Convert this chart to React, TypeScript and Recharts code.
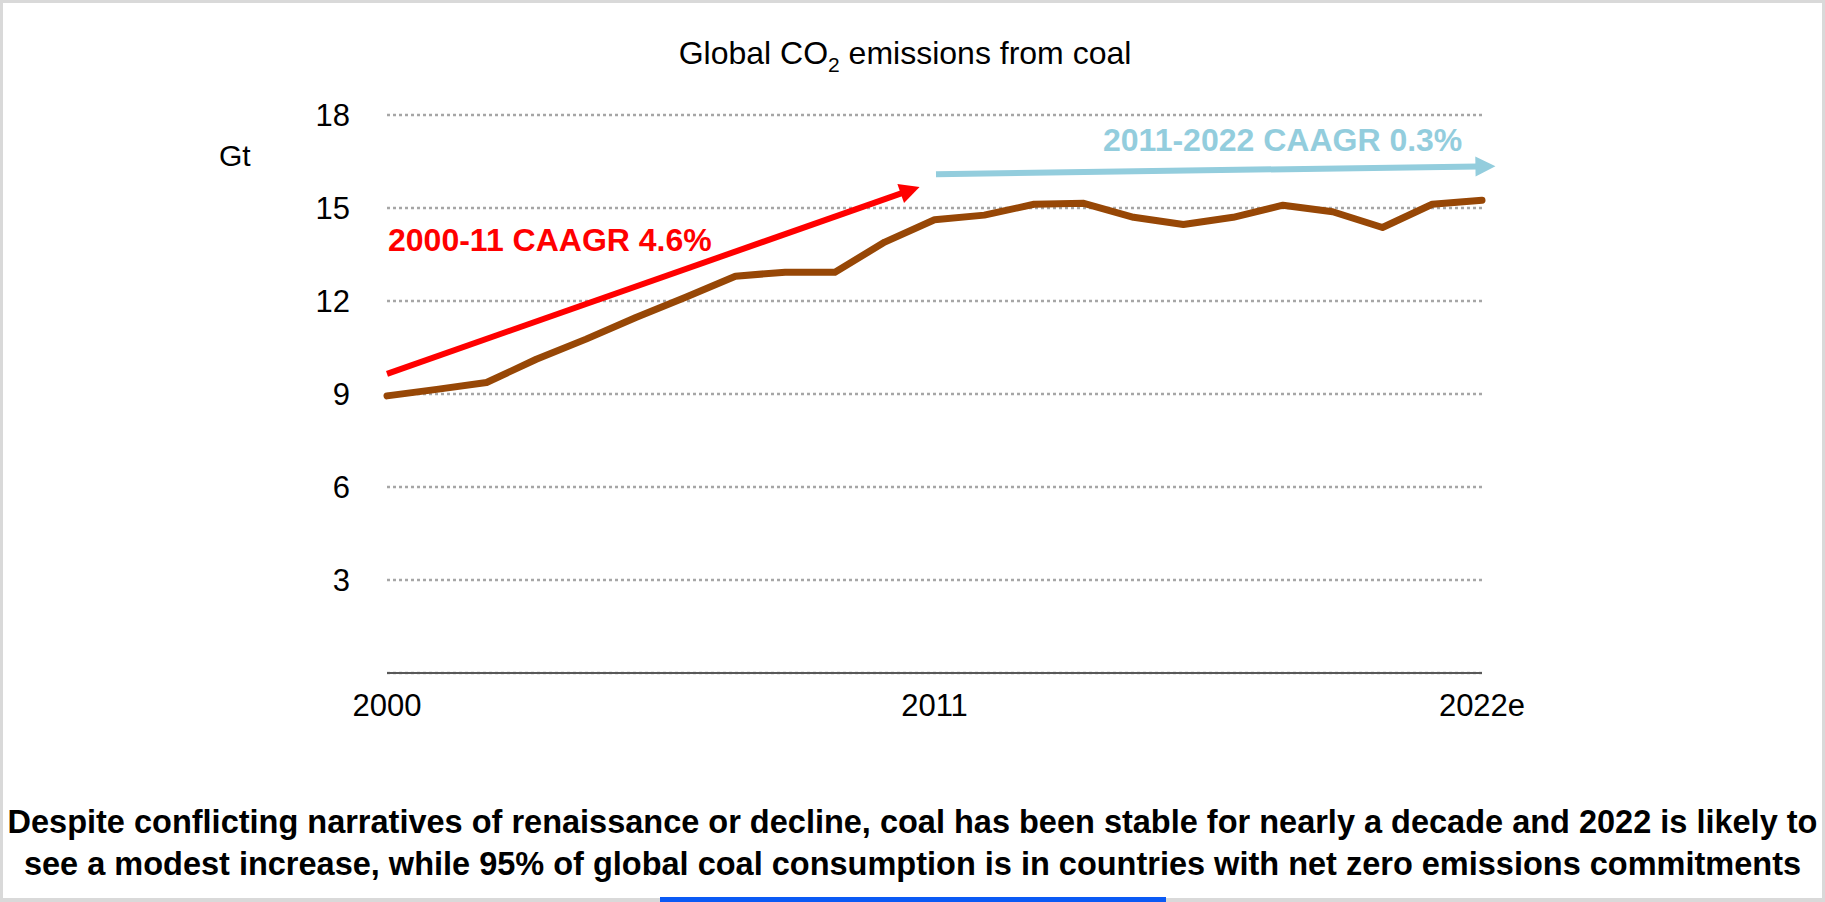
import { LineChart, Line, XAxis, YAxis, CartesianGrid, ReferenceLine } from 'recharts'

// Global CO2 emissions from coal, Gt
const years = [
  2000, 2001, 2002, 2003, 2004, 2005, 2006, 2007, 2008, 2009, 2010, 2011,
  2012, 2013, 2014, 2015, 2016, 2017, 2018, 2019, 2020, 2021, 2022,
]
const coalEmissions = [
  8.94, 9.15, 9.37, 10.12, 10.77, 11.47, 12.12, 12.8, 12.93, 12.93, 13.9, 14.62,
  14.77, 15.12, 15.15, 14.7, 14.47, 14.7, 15.09, 14.88, 14.37, 15.12, 15.25,
]
const yTicks = [3, 6, 9, 12, 15, 18]
const xTicks = [2000, 2011, 2022]

// growth-rate arrows, start and tip in data units
const earlyTrend = [
  { x: 2000, y: 9.65 },
  { x: 2010.7, y: 15.68 },
]
const lateTrend = [
  { x: 2011.03, y: 16.09 },
  { x: 2022.27, y: 16.35 },
]

const chartData = years.map((year, i) => ({ year, gt: coalEmissions[i] }))

const FONT = '"Liberation Sans", Arial, sans-serif'

const arrowShape = (color: string) => (p: any) => {
  const { x1, y1, x2, y2 } = p
  const dx = x2 - x1
  const dy = y2 - y1
  const len = Math.hypot(dx, dy) || 1
  const ux = dx / len
  const uy = dy / len
  const head = 20
  const half = 10
  const bx = x2 - ux * head
  const by = y2 - uy * head
  return (
    <g>
      <line x1={x1} y1={y1} x2={bx + ux * 2} y2={by + uy * 2} stroke={color} strokeWidth={6} />
      <polygon
        points={`${x2},${y2} ${bx - uy * half},${by + ux * half} ${bx + uy * half},${by - ux * half}`}
        fill={color}
      />
    </g>
  )
}

export default function App() {
  return (
    <div
      style={{
        position: 'absolute',
        left: 0,
        top: 0,
        width: 1825,
        height: 902,
        background: '#fff',
        fontFamily: FONT,
        overflow: 'hidden',
      }}
    >
      <div
        style={{
          position: 'absolute',
          left: 905,
          top: 37,
          transform: 'translateX(-50%)',
          fontSize: 32,
          lineHeight: 1,
          whiteSpace: 'nowrap',
          color: '#000',
        }}
      >
        Global CO<span style={{ fontSize: 21, position: 'relative', top: 8 }}>2</span> emissions from coal
      </div>

      <div style={{ position: 'absolute', left: 219, top: 141, fontSize: 30, lineHeight: 1 }}>Gt</div>

      <div
        style={{
          position: 'absolute',
          left: 388,
          top: 224,
          fontSize: 32,
          lineHeight: 1,
          fontWeight: 700,
          color: '#ff0000',
          whiteSpace: 'nowrap',
        }}
      >
        2000-11 CAAGR 4.6%
      </div>

      <div
        style={{
          position: 'absolute',
          left: 1103,
          top: 124,
          fontSize: 32,
          lineHeight: 1,
          fontWeight: 700,
          color: '#93cddd',
          whiteSpace: 'nowrap',
        }}
      >
        2011-2022 CAAGR 0.3%
      </div>

      <div style={{ position: 'absolute', left: 0, top: 0 }}>
        <LineChart
          width={1825}
          height={902}
          data={chartData}
          margin={{ top: 115, right: 343, bottom: 169, left: 327 }}
        >
          <CartesianGrid vertical={false} stroke="#a6a6a6" strokeWidth={2.5} strokeDasharray="3 3" />
          <XAxis
            dataKey="year"
            type="number"
            domain={[2000, 2022]}
            ticks={xTicks}
            tickFormatter={(v: number) => (v === 2022 ? '2022e' : String(v))}
            height={60}
            tickSize={0}
            tickMargin={21}
            axisLine={{ stroke: '#595959', strokeWidth: 2 }}
            tick={{ fontSize: 31, fill: '#000', fontFamily: FONT }}
          />
          <YAxis
            type="number"
            domain={[0, 18]}
            ticks={yTicks}
            width={60}
            tickSize={0}
            tickMargin={37}
            axisLine={false}
            tick={{ fontSize: 31, fill: '#000', fontFamily: FONT }}
          />
          <ReferenceLine
            segment={earlyTrend}
            ifOverflow="visible"
            stroke="#ff0000"
            shape={arrowShape('#ff0000')}
          />
          <ReferenceLine
            segment={lateTrend}
            ifOverflow="visible"
            stroke="#93cddd"
            shape={arrowShape('#93cddd')}
          />
          <Line
            type="linear"
            dataKey="gt"
            stroke="#974706"
            strokeWidth={7}
            strokeLinecap="round"
            strokeLinejoin="round"
            dot={false}
            isAnimationActive={false}
          />
        </LineChart>
      </div>

      <div
        style={{
          position: 'absolute',
          left: 0,
          width: 1825,
          top: 801,
          textAlign: 'center',
          fontSize: 32.5,
          lineHeight: '42px',
          fontWeight: 700,
          color: '#000',
          whiteSpace: 'nowrap',
        }}
      >
        Despite conflicting narratives of renaissance or decline, coal has been stable for nearly a decade and 2022 is likely to
        <br />
        see a modest increase, while 95% of global coal consumption is in countries with net zero emissions commitments
      </div>

      <div
        style={{
          position: 'absolute',
          inset: 0,
          border: '3px solid #d9d9d9',
          borderBottomWidth: 4,
          pointerEvents: 'none',
        }}
      />
      <div style={{ position: 'absolute', left: 660, top: 897, width: 506, height: 5, background: '#0a5af5' }} />
    </div>
  )
}
